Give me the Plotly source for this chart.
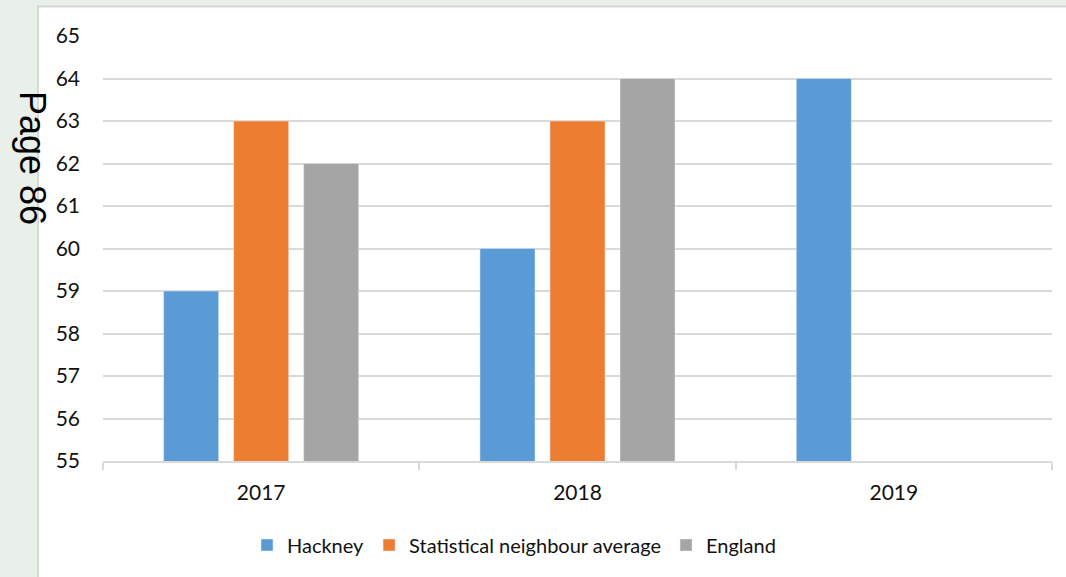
import plotly.graph_objects as go

years = ["2017", "2018", "2019"]
hackney = [59, 60, 64]
stat_neighbour = [63, 63, None]
england = [62, 64, None]
y_ticks = list(range(55, 66))

W, H = 1066, 577
L, R, T, B = 103, 14, 36, 116
pw, ph = W - L - R, H - T - B


def px_x(x):
    return (x - L) / pw


def px_y(y):
    return (H - B - y) / ph


fig = go.Figure()
fig.add_trace(go.Bar(name="Hackney", x=years, y=hackney, marker_color="#5b9bd5"))
fig.add_trace(go.Bar(name="Statistical neighbour average", x=years, y=stat_neighbour, marker_color="#ed7d31"))
fig.add_trace(go.Bar(name="England", x=years, y=england, marker_color="#a5a5a5"))

font = "Lato, 'Open Sans', sans-serif"

fig.update_layout(
    width=W, height=H,
    margin=dict(l=L, r=R, t=T, b=B, pad=0),
    paper_bgcolor="#e9efe9",
    plot_bgcolor="white",
    barmode="group",
    bargap=0.336,
    bargroupgap=0.214,
    font=dict(family=font, size=20, color="#111111"),
    showlegend=True,
    legend=dict(
        orientation="h", xanchor="center", yanchor="middle",
        x=px_x(514), y=px_y(545), itemwidth=30,
        font=dict(family=font, size=20, color="#111111"),
        bgcolor="rgba(0,0,0,0)",
    ),
    shapes=[
        dict(type="rect", xref="paper", yref="paper", layer="below",
             x0=px_x(38), x1=px_x(1070), y0=px_y(582), y1=px_y(6.5),
             fillcolor="white", line=dict(color="#d6d6d6", width=2)),
    ],
    annotations=[
        dict(text="Page 86", xref="paper", yref="paper",
             x=px_x(33), y=px_y(158), showarrow=False, textangle=90,
             xanchor="center", yanchor="middle",
             font=dict(family="Liberation Sans, Arial, sans-serif", size=36, color="black")),
    ],
)

fig.update_yaxes(
    range=[55, 65], tickvals=y_ticks, ticktext=[str(v) for v in y_ticks],
    showgrid=True, gridcolor="#d9d9d9", gridwidth=1.5,
    zeroline=False, showline=False, ticks="", ticklabelstandoff=22,
    tickfont=dict(family=font, size=21, color="#111111"),
)
fig.update_xaxes(
    showline=True, linecolor="#d9d9d9", linewidth=1.5,
    ticks="outside", tickson="boundaries", ticklen=7, tickcolor="#d9d9d9", tickwidth=1.5,
    showgrid=False, ticklabelstandoff=12,
    tickfont=dict(family=font, size=21, color="#111111"),
)

fig.write_html("out.html")
